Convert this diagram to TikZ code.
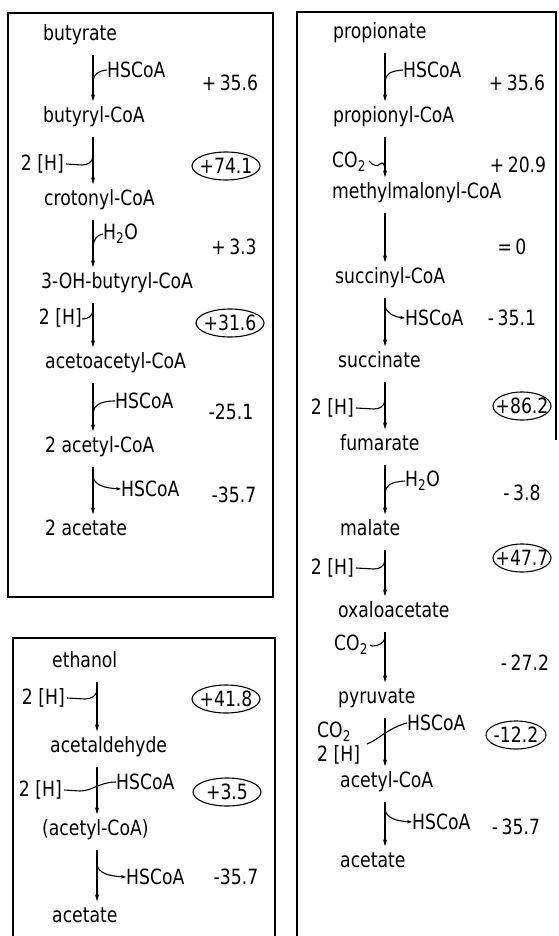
\documentclass[tikz,border=0pt]{standalone}
\usepackage{fontspec}
\setmainfont{DejaVu Sans}[FakeStretch=0.82]
\usetikzlibrary{arrows.meta}
\begin{document}
\begin{tikzpicture}[x=1pt,y=-1pt,
  cmp/.style={anchor=west, inner sep=0pt, font=\fontsize{21}{24}\selectfont, text height=15pt, text depth=4pt},
  lab/.style={inner sep=0pt, font=\fontsize{21}{24}\selectfont},
  val/.style={inner sep=0pt, font=\fontsize{21}{24}\selectfont},
  rx/.style={line width=1.1pt, -{Stealth[length=7pt,width=4pt]}, shorten <=10pt, shorten >=6pt},
  br/.style={line width=1.1pt},
  bro/.style={line width=1.1pt, -{Stealth[length=5pt,width=3.5pt]}},
  frame/.style={line width=1.3pt},
  ring/.style={line width=1.1pt}]
\useasboundingbox (0,0) rectangle (558,936);

% frames
\draw[frame] (8,13) rectangle (273,597);
\draw[frame] (13,936) -- (13,638) -- (275,638) -- (275,936);
\draw[frame] (297,936) -- (297,12) -- (556,12) -- (556,440);

% ---------------- butyrate box ----------------
\node[cmp] (b1) at (43,35) {butyrate};
\node[cmp] (b2) at (43,117) {butyryl-CoA};
\node[cmp] (b3) at (44,200) {crotonyl-CoA};
\node[cmp] (b4) at (41,283) {3-OH-butyryl-CoA};
\node[cmp] (b5) at (45,363) {acetoacetyl-CoA};
\node[cmp] (b6) at (45,447) {2 acetyl-CoA};
\node[cmp] (b7) at (45,530) {2 acetate};
\foreach \a/\b in {b1/b2,b2/b3,b3/b4,b4/b5,b5/b6,b6/b7}
  \draw[rx] (\a.south -| 93,0) -- (\b.north -| 93,0);

\node[lab,anchor=west] (bh1) at (107,70) {HSCoA};
\coordinate (bj1) at (93,81);
\draw[br] (bj1) .. controls (94,74) and (98,71) .. (bh1.west);
\node[val] (bv1) at (230,83) {+\,35.6};

\node[lab,anchor=east] (bh2) at (64,164) {2 [H]};
\coordinate (bj2) at (93,157);
\draw[br] ([xshift=2pt]bh2.east) -- (82,165) .. controls (88,165) and (92,162) .. (bj2);
\node[val] (bv2) at (226,166) {+74.1};
\draw[ring] (bv2) ellipse [x radius=34pt, y radius=14pt];

\node[lab,anchor=west] (bh3) at (103,234) {H\textsubscript{2}O};
\coordinate (bj3) at (93,246);
\draw[br] (bj3) .. controls (94,239) and (97,235) .. (bh3.west);
\node[val] (bv3) at (234,247) {+\,3.3};

\node[lab,anchor=east] (bh4) at (82,318) {2 [H]};
\coordinate (bj4) at (93,311);
\draw[br] ([xshift=1pt]bh4.east) -- (83,319) .. controls (88,319) and (92,316) .. (bj4);
\node[val] (bv4) at (230,323) {+31.6};
\draw[ring] (bv4) ellipse [x radius=34pt, y radius=14pt];

\node[lab,anchor=west] (bh5) at (115,401) {HSCoA};
\coordinate (bj5) at (93,413);
\draw[br] (bj5) .. controls (94,406) and (99,401) .. (bh5.west);
\node[val] (bv5) at (231,412) {-25.1};

\node[lab,anchor=west] (bh6) at (121,489) {HSCoA};
\coordinate (bj6) at (93,477);
\draw[bro] (bj6) .. controls (95,485) and (104,488) .. (bh6.west);
\node[val] (bv6) at (234,495) {-35.7};

% ---------------- ethanol box ----------------
\node[cmp] (e1) at (52,662) {ethanol};
\node[cmp] (e2) at (50,747) {acetaldehyde};
\node[cmp] (e3) at (42,830) {(acetyl-CoA)};
\node[cmp] (e4) at (52,917) {acetate};
\foreach \a/\b in {e1/e2,e2/e3,e3/e4}
  \draw[rx] (\a.south -| 97,0) -- (\b.north -| 97,0);

\node[lab,anchor=east] (eh1) at (65,698) {2 [H]};
\coordinate (ej1) at (97,691);
\draw[br] ([xshift=2pt]eh1.east) -- (85,699) .. controls (91,699) and (96,696) .. (ej1);
\node[val] (ev1) at (226,699) {+41.8};
\draw[ring] (ev1) ellipse [x radius=34pt, y radius=14pt];

\node[lab,anchor=east] (eh2) at (62,790) {2 [H]};
\node[lab,anchor=west] (eh3) at (116,782) {HSCoA};
\draw[br] ([xshift=2pt]eh2.east) -- (80,791) .. controls (92,791) and (100,782) .. (eh3.west);
\node[val] (ev2) at (227,792) {+3.5};
\draw[ring] (ev2) ellipse [x radius=34pt, y radius=14pt];

\node[lab,anchor=west] (eh4) at (126,877) {HSCoA};
\coordinate (ej4) at (97,865);
\draw[bro] (ej4) .. controls (99,873) and (108,876) .. (eh4.west);
\node[val] (ev3) at (236,877) {-35.7};

% ---------------- propionate box ----------------
\node[cmp] (p1) at (333,33) {propionate};
\node[cmp] (p2) at (333,117) {propionyl-CoA};
\node[cmp] (p3) at (332,193) {methylmalonyl-CoA};
\node[cmp] (p4) at (335,278) {succinyl-CoA};
\node[cmp] (p5) at (338,362) {succinate};
\node[cmp] (p6) at (340,445) {fumarate};
\node[cmp] (p7) at (340,530) {malate};
\node[cmp] (p8) at (338,612) {oxaloacetate};
\node[cmp] (p9) at (338,698) {pyruvate};
\node[cmp] (p10) at (340,782) {acetyl-CoA};
\node[cmp] (p11) at (340,862) {acetate};
\foreach \a/\b in {p1/p2,p2/p3,p3/p4,p4/p5,p5/p6,p6/p7,p7/p8,p8/p9,p9/p10,p10/p11}
  \draw[rx] (\a.south -| 385,0) -- (\b.north -| 385,0);

\node[lab,anchor=west] (ph1) at (403,70) {HSCoA};
\coordinate (pj1) at (385,81);
\draw[br] (pj1) .. controls (386,74) and (390,71) .. (ph1.west);
\node[val] (pv1) at (517,83) {+\,35.6};

\node[lab,anchor=west] (ph2) at (332,162) {CO\textsubscript{2}};
\coordinate (pj2) at (385,170);
\draw[br] ([xshift=3pt]ph2.east) .. controls (368,158) and (374,170) .. (380,164) .. controls (383,161) and (385,165) .. (pj2);
\node[val] (pv2) at (518,165) {+\,20.9};

\node[val] (pv3) at (512,247) {=\,0};

\node[lab,anchor=west] (ph4) at (405,318) {HSCoA};
\coordinate (pj4) at (385,306);
\draw[bro] (pj4) .. controls (387,314) and (395,317) .. (ph4.west);
\node[val] (pv4) at (512,318) {-\,35.1};

\node[lab,anchor=east] (ph5) at (354,408) {2 [H]};
\coordinate (pj5) at (385,401);
\draw[br] ([xshift=2pt]ph5.east) -- (374,409) .. controls (380,409) and (384,406) .. (pj5);
\node[val] (pv5) at (522,406) {+86.2};
\draw[ring] (pv5) ellipse [x radius=29pt, y radius=14pt];

\node[lab,anchor=west] (ph6) at (405,481) {H\textsubscript{2}O};
\coordinate (pj6) at (385,493);
\draw[br] (pj6) .. controls (386,486) and (389,482) .. (ph6.west);
\node[val] (pv6) at (522,493) {-\,3.8};

\node[lab,anchor=east] (ph7) at (354,568) {2 [H]};
\coordinate (pj7) at (385,561);
\draw[br] ([xshift=2pt]ph7.east) -- (374,569) .. controls (380,569) and (384,566) .. (pj7);
\node[val] (pv7) at (522,558) {+47.7};
\draw[ring] (pv7) ellipse [x radius=29pt, y radius=14pt];

\node[lab,anchor=west] (ph8) at (334,645) {CO\textsubscript{2}};
\coordinate (pj8) at (385,638);
\draw[br] ([xshift=2pt]ph8.east) -- (372,646) .. controls (379,646) and (384,643) .. (pj8);
\node[val] (pv8) at (525,663) {-\,27.2};

\node[lab,anchor=west] (ph9) at (317,732) {CO\textsubscript{2}};
\node[lab,anchor=west] (ph10) at (317,755) {2 [H]};
\node[lab,anchor=west] (ph11) at (407,723) {HSCoA};
\coordinate (pj9) at (367,744);
\draw[br] (pj9) .. controls (378,740) and (388,728) .. (ph11.west);
\node[val] (pv9) at (516,735) {-12.2};
\draw[ring] (pv9) ellipse [x radius=30pt, y radius=14pt];

\node[lab,anchor=west] (ph12) at (412,822) {HSCoA};
\coordinate (pj12) at (385,810);
\draw[bro] (pj12) .. controls (387,818) and (396,821) .. (ph12.west);
\node[val] (pv10) at (516,827) {-\,35.7};
\end{tikzpicture}
\end{document}
